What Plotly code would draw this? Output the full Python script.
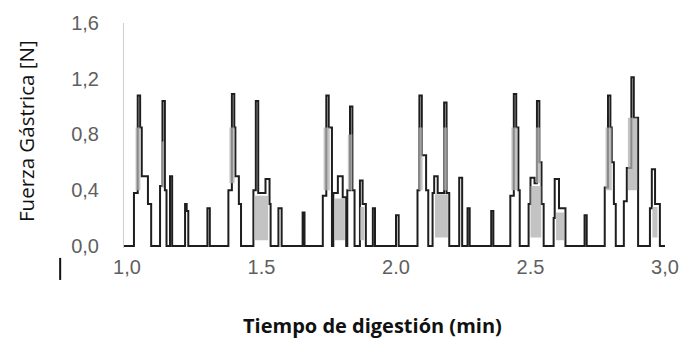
import plotly.graph_objects as go

# Black force signal (step-wise: level holds until the next time)
t_black = [0.989, 1.026, 1.040, 1.049, 1.055, 1.078, 1.090,
           1.123, 1.132, 1.141, 1.147, 1.160, 1.168, 1.216, 1.222, 1.228, 1.299, 1.308,
           1.377, 1.390, 1.399, 1.403, 1.416, 1.424, 1.470, 1.479, 1.488, 1.515, 1.530, 1.534,
           1.563, 1.575, 1.653, 1.660,
           1.728, 1.741, 1.750, 1.762, 1.767, 1.784, 1.802, 1.815, 1.819, 1.829, 1.838, 1.846,
           1.866, 1.876, 1.888, 1.914, 1.922, 2.000, 2.010,
           2.080, 2.087, 2.096, 2.112, 2.120, 2.136, 2.142, 2.155, 2.179, 2.188, 2.198,
           2.235, 2.246, 2.266, 2.274, 2.354, 2.362,
           2.425, 2.438, 2.447, 2.455, 2.460, 2.493, 2.500, 2.515, 2.524, 2.533, 2.541, 2.549,
           2.586, 2.590, 2.606, 2.630, 2.701, 2.709,
           2.776, 2.788, 2.797, 2.802, 2.810, 2.817, 2.847, 2.858, 2.875, 2.884, 2.900,
           2.944, 2.951, 2.963, 2.981, 3.000]
f_black = [0.00, 0.38, 1.08, 0.85, 0.50, 0.30, 0.00,
           0.43, 1.04, 0.40, 0.00, 0.50, 0.00, 0.30, 0.25, 0.00, 0.27, 0.00,
           0.40, 1.09, 0.85, 0.50, 0.30, 0.00, 0.40, 1.04, 0.38, 0.48, 0.30, 0.00,
           0.27, 0.00, 0.24, 0.00,
           0.36, 1.08, 0.85, 0.00, 0.38, 0.50, 0.35, 0.00, 0.40, 1.00, 0.40, 0.00,
           0.47, 0.30, 0.00, 0.27, 0.00, 0.22, 0.00,
           0.40, 1.08, 0.65, 0.40, 0.00, 0.38, 0.50, 0.38, 1.03, 0.38, 0.00,
           0.49, 0.00, 0.27, 0.00, 0.25, 0.00,
           0.36, 1.09, 0.85, 0.40, 0.00, 0.30, 0.49, 0.45, 1.04, 0.60, 0.30, 0.00,
           0.20, 0.48, 0.27, 0.00, 0.22, 0.00,
           0.42, 1.08, 0.85, 0.60, 0.30, 0.00, 0.32, 0.56, 1.21, 0.92, 0.00,
           0.27, 0.55, 0.30, 0.00, 0.00]

# Gray channel bands (start, end, low, high)
g_start = [1.032, 1.128, 1.381, 1.472, 1.731, 1.772, 1.821, 1.866, 2.084, 2.145, 2.176,
           2.429, 2.500, 2.520, 2.595, 2.779, 2.862, 2.953]
g_end   = [1.050, 1.138, 1.400, 1.525, 1.754, 1.810, 1.838, 1.882, 2.099, 2.193, 2.190,
           2.452, 2.540, 2.538, 2.625, 2.802, 2.897, 2.972]
g_low   = [0.40, 0.42, 0.45, 0.04, 0.40, 0.04, 0.40, 0.04, 0.40, 0.06, 0.40,
           0.40, 0.06, 0.45, 0.04, 0.40, 0.40, 0.06]
g_high  = [0.85, 0.75, 0.85, 0.36, 0.85, 0.34, 0.80, 0.28, 0.85, 0.37, 0.85,
           0.85, 0.43, 0.85, 0.24, 0.85, 0.92, 0.28]

y_ticks = [0.0, 0.4, 0.8, 1.2, 1.6]
y_tick_text = ["0,0", "0,4", "0,8", "1,2", "1,6"]
x_ticks = [1.0, 1.5, 2.0, 2.5, 3.0]
x_tick_text = ["1,0", "1.5", "2.0", "2.5", "3,0"]

gx, gy = [], []
for a, b, lo, hi in zip(g_start, g_end, g_low, g_high):
    gx += [a, a, b, b, a, None]
    gy += [lo, hi, hi, lo, lo, None]

fig = go.Figure()
fig.add_trace(go.Scatter(x=t_black, y=f_black, mode="lines", line_shape="hv",
                         line=dict(color="#1e1e1e", width=2.0), hoverinfo="skip"))
fig.add_trace(go.Scatter(x=gx, y=gy, mode="lines", fill="toself",
                         fillcolor="rgba(175,175,175,0.75)",
                         line=dict(color="rgba(175,175,175,0)", width=0), hoverinfo="skip"))

tickfont = dict(family="Liberation Sans", size=20, color="#5f5f5f")
fig.update_layout(
    width=683, height=341,
    margin=dict(l=124, r=18, t=23, b=93, autoexpand=False),
    paper_bgcolor="white", plot_bgcolor="white",
    showlegend=False,
    xaxis=dict(range=[0.989, 3.0], tickvals=x_ticks, ticktext=x_tick_text,
               showgrid=False, zeroline=False, showline=False, ticks="",
               tickfont=tickfont, ticklabelstandoff=5, automargin=False),
    yaxis=dict(range=[-0.015, 1.6], tickvals=y_ticks, ticktext=y_tick_text,
               showgrid=False, zeroline=False, showline=True, linecolor="#cfcfcf",
               linewidth=1, ticks="", tickfont=tickfont, ticklabelstandoff=20,
               automargin=False),
    annotations=[
        dict(text="Fuerza Gástrica [N]", xref="paper", yref="paper", x=0, y=0.52,
             xshift=-98, textangle=-90, showarrow=False, xanchor="center", yanchor="middle",
             font=dict(family="Open Sans", size=20.5, color="#111111")),
        dict(text="<b>Tiempo de digestión (min)</b>", xref="paper", yref="paper", x=0.46, y=0,
             yshift=-77, showarrow=False, xanchor="center", yanchor="middle",
             font=dict(family="Open Sans", size=20, color="#111111")),
    ],
    shapes=[dict(type="line", xref="paper", yref="paper", x0=-0.118, x1=-0.118,
                 y0=-0.044, y1=-0.142, line=dict(color="#111111", width=2))],
)
fig.write_html("out.html", config={"displayModeBar": False},
               post_script="document.body.style.margin='0px';document.body.style.overflow='hidden';")
